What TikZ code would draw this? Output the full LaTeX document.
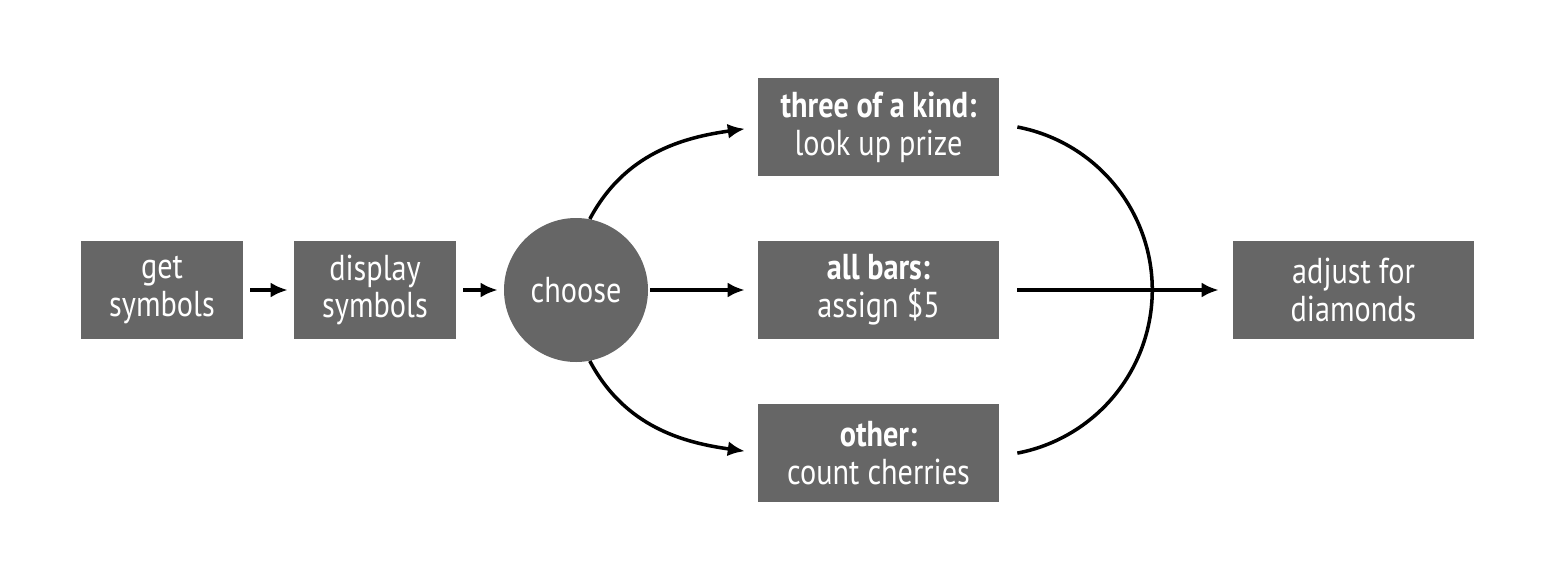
\documentclass[tikz,border=0pt]{standalone}
\usepackage{fontspec}
\setmainfont[FakeStretch=0.84]{PT Sans}
\usetikzlibrary{arrows.meta,positioning}

\definecolor{boxgray}{HTML}{666666}

\tikzset{
  stepbox/.style={rectangle,fill=boxgray,text=white,minimum height=1.96cm,align=center,inner sep=0pt,font=\fontsize{20.5}{21.5}\selectfont},
  flow/.style={line width=2pt,-{Latex[length=0.34cm,width=0.3cm]}}
}

\begin{document}
\begin{tikzpicture}
    \useasboundingbox (0,0) rectangle (31.3,11.62);
    % left chain
    \node[stepbox,minimum width=3.24cm] (get) at (3.24,5.82) {get\\symbols};
    \node[stepbox,minimum width=3.24cm] (display) at (7.5,5.82) {display\\symbols};
    \node[circle,fill=boxgray,text=white,minimum size=2.88cm,inner sep=0pt,font=\fontsize{20.5}{21.5}\selectfont] (choose) at (11.52,5.82) {choose};

    % the three cases
    \node[stepbox,minimum width=4.82cm] (three) at (17.57,9.08) {\textbf{three of a kind:}\\look up prize};
    \node[stepbox,minimum width=4.82cm] (bars) at (17.57,5.82) {\textbf{all bars:}\\assign \$5};
    \node[stepbox,minimum width=4.82cm] (other) at (17.57,2.56) {\textbf{other:}\\count cherries};

    % final step
    \node[stepbox,minimum width=4.82cm] (adjust) at (27.07,5.82) {adjust for\\diamonds};

    % arrows
    \draw[flow,shorten <=0.14cm,shorten >=0.12cm] (get) -- (display);
    \draw[flow,shorten <=0.14cm,shorten >=0.12cm] (display) -- (choose);
    \draw[flow,shorten <=0.04cm,shorten >=0.26cm] (choose) -- (bars);
    \draw[flow,shorten >=0.26cm] (choose.79) to[out=62,in=188] (three.west);
    \draw[flow,shorten >=0.26cm] (choose.-79) to[out=-62,in=172] (other.west);

    % merge
    \draw[line width=2pt] ([xshift=0.36cm]three.east) arc[start angle=79.2,end angle=-79.2,radius=3.32cm];
    \draw[flow,shorten >=0.28cm] ([xshift=0.36cm]bars.east) -- (adjust.west);
\end{tikzpicture}
\end{document}
